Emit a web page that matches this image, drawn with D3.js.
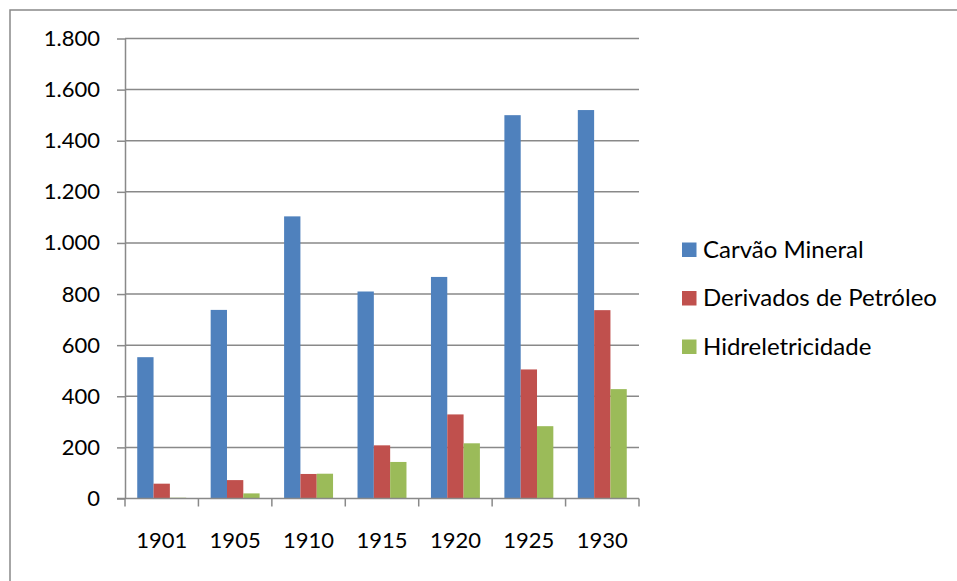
<!DOCTYPE html>
<html>
<head>
<meta charset="utf-8">
<script src="https://cdn.jsdelivr.net/npm/d3@7"></script>
<style>
    body { margin: 0; background: #fff; }
    text { font-family: Lato, "Liberation Sans", Arial, sans-serif; fill: #000; }
</style>
</head>
<body>
<svg id="chart"></svg>
<script>
const years = [ '1901', '1905', '1910', '1915', '1920', '1925', '1930' ];
const series = [ 'Carvão Mineral', 'Derivados de Petróleo', 'Hidreletricidade' ];
const carvao = [ 553, 738, 1104, 810, 867, 1500, 1520 ];
const petroleo = [ 58, 72, 96, 208, 329, 505, 737 ];
const hidro = [ 3, 20, 97, 143, 216, 283, 428 ];
const yticks = [ 0, 200, 400, 600, 800, 1000, 1200, 1400, 1600, 1800 ];
const colors = [ '#4F81BD', '#C0504D', '#9BBB59' ];

const values = [ carvao, petroleo, hidro ];
const data = years.map( ( y, i ) => ({
    year: y,
    vals: series.map( ( s, j ) => ({ key: s, value: values[j][i] }) )
}) );

const width = 957, height = 581;
const margin = { top: 38.5, left: 125, right: 318, bottom: 82.5 };
const inner_width = width - margin.left - margin.right;
const inner_height = height - margin.top - margin.bottom;
const grey = '#898989';
const font_size = '22px';

const svg = d3.select( '#chart' )
    .attr( 'width', width )
    .attr( 'height', height );

// chart frame
svg.append( 'rect' )
    .attr( 'x', 10 ).attr( 'y', 10 )
    .attr( 'width', 960 ).attr( 'height', 600 )
    .attr( 'fill', 'none' )
    .attr( 'stroke', grey )
    .attr( 'stroke-width', 1.5 );

const chart = svg.append( 'g' )
    .attr( 'transform', `translate(${margin.left}, ${margin.top})` );

const x0 = d3.scaleBand()
    .domain( years )
    .range( [ 0, inner_width ] )
    .paddingInner( 1/3 )
    .paddingOuter( 1/6 );

const x1 = d3.scaleBand()
    .domain( series )
    .range( [ 0, x0.bandwidth() ] );

const yscale = d3.scaleLinear()
    .domain( [ 0, 1800 ] )
    .range( [ inner_height, 0 ] );

const color = d3.scaleOrdinal()
    .domain( series )
    .range( colors );

// gridlines
chart.append( 'g' )
    .selectAll( 'line' )
    .data( yticks.slice( 1 ) )
    .join( 'line' )
    .attr( 'x1', 0 )
    .attr( 'x2', inner_width )
    .attr( 'y1', d => yscale( d ) )
    .attr( 'y2', d => yscale( d ) )
    .attr( 'stroke', grey )
    .attr( 'stroke-width', 1.5 );

// bars
chart.append( 'g' )
    .selectAll( 'g' )
    .data( data )
    .join( 'g' )
    .attr( 'transform', d => `translate(${x0( d.year )}, 0)` )
    .selectAll( 'rect' )
    .data( d => d.vals )
    .join( 'rect' )
    .attr( 'x', d => x1( d.key ) )
    .attr( 'y', d => yscale( d.value ) )
    .attr( 'width', x1.bandwidth() )
    .attr( 'height', d => inner_height - yscale( d.value ) )
    .attr( 'fill', d => color( d.key ) );

// y axis
const fmt = d => d3.format( ',' )( d ).replace( /,/g, '.' );
const yaxis = d3.axisLeft( yscale )
    .tickValues( yticks )
    .tickFormat( fmt )
    .tickSize( 8 )
    .tickSizeOuter( 0 )
    .tickPadding( 17 );

const yaxis_group = chart.append( 'g' ).call( yaxis );

// x axis (ticks at category boundaries)
const step = x0.step();
const xaxis_group = chart.append( 'g' )
    .attr( 'transform', `translate(0, ${inner_height})` );

xaxis_group.append( 'line' )
    .attr( 'x1', -8 ).attr( 'x2', inner_width )
    .attr( 'stroke', grey ).attr( 'stroke-width', 1.5 );

xaxis_group.selectAll( '.xtick' )
    .data( d3.range( years.length + 1 ) )
    .join( 'line' )
    .attr( 'class', 'xtick' )
    .attr( 'x1', i => i * step )
    .attr( 'x2', i => i * step )
    .attr( 'y1', 0 ).attr( 'y2', 8 )
    .attr( 'stroke', grey ).attr( 'stroke-width', 1.5 );

xaxis_group.selectAll( '.xlabel' )
    .data( years )
    .join( 'text' )
    .attr( 'class', 'xlabel' )
    .attr( 'x', d => x0( d ) + x0.bandwidth() / 2 )
    .attr( 'y', 49.5 )
    .attr( 'text-anchor', 'middle' )
    .style( 'font-size', font_size )
    .text( d => d );

yaxis_group.select( '.domain' ).attr( 'stroke', grey ).attr( 'stroke-width', 1.5 );
yaxis_group.selectAll( '.tick line' ).attr( 'stroke', grey ).attr( 'stroke-width', 1.5 );
yaxis_group.selectAll( '.tick text' )
    .style( 'font-size', font_size )
    .style( 'font-family', 'Lato, "Liberation Sans", Arial, sans-serif' )
    .attr( 'fill', '#000' );
yaxis_group.selectAll( '.tick' ).filter( d => d == 0 ).select( 'line' ).attr( 'x2', -8 );

// legend
const legend = svg.append( 'g' )
    .attr( 'transform', 'translate(682, 242.5)' );

const item = legend.selectAll( 'g' )
    .data( series )
    .join( 'g' )
    .attr( 'transform', ( d, i ) => `translate(0, ${i * 48.5})` );

item.append( 'rect' )
    .attr( 'width', 14.5 )
    .attr( 'height', 14.5 )
    .attr( 'fill', d => color( d ) );

item.append( 'text' )
    .attr( 'x', 21 )
    .attr( 'y', 15 )
    .style( 'font-size', '24px' )
    .text( d => d );
</script>
</body>
</html>
